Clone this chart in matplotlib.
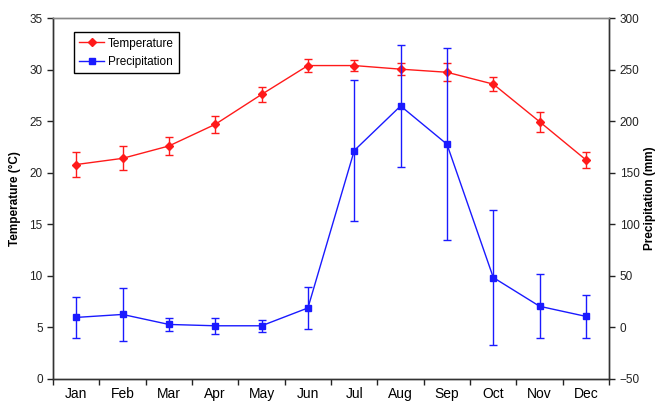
import numpy as np
import matplotlib.pyplot as plt
from matplotlib.lines import Line2D

plt.rcParams['font.family'] = ['Liberation Sans', 'DejaVu Sans']

months = ["Jan", "Feb", "Mar", "Apr", "May", "Jun",
          "Jul", "Aug", "Sep", "Oct", "Nov", "Dec"]
temp_mean = [20.8, 21.4, 22.6, 24.7, 27.6, 30.4, 30.4, 30.05, 29.75, 28.6, 24.95, 21.25]
temp_err = [1.2, 1.15, 0.85, 0.8, 0.75, 0.65, 0.55, 0.55, 0.85, 0.7, 0.95, 0.8]
precip_mean = [9.7, 12.6, 2.9, 1.6, 1.6, 18.9, 171.6, 214.8, 177.7, 48.4, 20.5, 10.7]
precip_err = [19.7, 25.5, 6.0, 7.8, 5.7, 20.0, 68.3, 59.0, 93.0, 65.8, 31.0, 20.5]

x = np.arange(1, len(months) + 1)

fig = plt.figure(figsize=(6.55, 4.03), dpi=100)
ax = fig.add_axes([0.081, 0.0596, 0.849, 0.8954])
ax2 = ax.twinx()

ax.errorbar(x, temp_mean, yerr=temp_err, color='#ff1a1a', lw=1.0,
            marker='D', ms=4, capsize=3, elinewidth=1.0, capthick=1.0)
ax2.errorbar(x, precip_mean, yerr=precip_err, color='#1a1aff', lw=1.0,
             marker='s', ms=4.5, capsize=3, elinewidth=1.0, capthick=1.0)

# months sit between the tick marks
ax.set_xlim(0.5, 12.5)
ax.set_xticks(np.arange(0.5, 13, 1))
ax.set_xticklabels([])
ax.set_xticks(x, minor=True)
ax.set_xticklabels(months, minor=True)
ax.tick_params(axis='x', which='minor', length=0, pad=6)

ax.set_ylim(0, 35)
ax.set_yticks(np.arange(0, 36, 5))
ax2.set_ylim(-50, 300)
ax2.set_yticks(np.arange(-50, 301, 50))

for a in (ax, ax2):
    a.tick_params(labelsize=8.5, length=4, width=1, direction='out', colors='#222222')
    for s in a.spines.values():
        s.set_color('#333333')
        s.set_linewidth(1.0)
ax.spines['top'].set_color('#888888')
ax2.spines['top'].set_color('#888888')

ax.set_ylabel('Temperature (°C)', fontsize=8.5, fontweight='bold', labelpad=6)
ax2.set_ylabel('Precipitation (mm)', fontsize=8.5, fontweight='bold', labelpad=3)

handles = [Line2D([], [], color='#ff1a1a', lw=1.0, marker='D', ms=4),
           Line2D([], [], color='#1a1aff', lw=1.0, marker='s', ms=4.5)]
leg = ax2.legend(handles, ['Temperature', 'Precipitation'], loc='upper left',
                 bbox_to_anchor=(0.038, 0.961), borderaxespad=0, fontsize=8.5,
                 fancybox=False, framealpha=1, edgecolor='black', handlelength=2.1,
                 handletextpad=0.3, borderpad=0.45, labelspacing=0.55)
leg.get_frame().set_linewidth(1.0)

fig.savefig('out.png', dpi=100)
